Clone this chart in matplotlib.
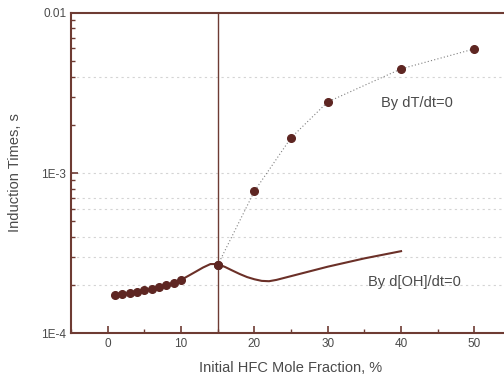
import matplotlib
matplotlib.use('Agg')
import matplotlib.pyplot as plt
from matplotlib.ticker import FixedLocator, MultipleLocator, NullFormatter

plt.rcParams['font.family'] = ['Liberation Sans', 'DejaVu Sans']

# Induction times by dT/dt=0 (points joined by a dotted line)
x_dt = [15, 20, 25, 30, 40, 50]
t_dt = [2.66e-4, 7.7e-4, 1.66e-3, 2.78e-3, 4.47e-3, 5.96e-3]

# Induction times by d[OH]/dt=0 (points at low fraction, then solid curve)
x_oh_pts = [1, 2, 3, 4, 5, 6, 7, 8, 9, 10, 15]
t_oh_pts = [1.73e-4, 1.75e-4, 1.78e-4, 1.81e-4, 1.85e-4, 1.89e-4, 1.94e-4,
            2.0e-4, 2.06e-4, 2.15e-4, 2.66e-4]
x_oh = [1, 2, 3, 4, 5, 6, 7, 8, 9, 10, 11, 12, 13, 14, 15, 16, 17, 18, 19,
        20, 21, 22, 23, 25, 30, 35, 40]
t_oh = [1.73e-4, 1.75e-4, 1.78e-4, 1.81e-4, 1.85e-4, 1.89e-4, 1.94e-4,
        2.0e-4, 2.06e-4, 2.15e-4, 2.28e-4, 2.42e-4, 2.57e-4, 2.70e-4,
        2.70e-4, 2.59e-4, 2.46e-4, 2.34e-4, 2.24e-4, 2.17e-4, 2.12e-4,
        2.11e-4, 2.15e-4, 2.27e-4, 2.6e-4, 2.93e-4, 3.25e-4]

grid_vals = [2e-4, 3e-4, 4e-4, 6e-4, 7e-4, 1e-3, 4e-3]

brown = '#5e2622'
spine = '#6e3b33'
txt = '#4a4a4a'

fig = plt.figure(figsize=(5.04, 3.79), dpi=100)
ax = fig.add_axes([0.141, 0.121, 0.873, 0.845])
ax.set_yscale('log')
ax.set_xlim(-5, 55)
ax.set_ylim(1e-4, 1e-2)

for g in grid_vals:
    ax.axhline(g, color='#d4d4d4', lw=0.8, ls=(0, (2, 3)), zorder=0)

ax.axvline(15, color=spine, lw=1.0, zorder=1)

ax.plot(x_dt, t_dt, color='#808080', lw=0.8, ls=(0, (1, 2)), zorder=2)
ax.plot(x_dt, t_dt, 'o', color=brown, ms=5.5, zorder=3)
ax.plot(x_oh, t_oh, color='#6b3028', lw=1.5, zorder=2)
ax.plot(x_oh_pts, t_oh_pts, 'o', color=brown, ms=5.5, zorder=3)

ax.text(37.3, 2.75e-3, 'By dT/dt=0', fontsize=10.5, color=txt, va='center')
ax.text(35.5, 2.1e-4, 'By d[OH]/dt=0', fontsize=10.5, color=txt, va='center')

ax.xaxis.set_major_locator(MultipleLocator(10))
ax.xaxis.set_minor_locator(MultipleLocator(5))
ax.yaxis.set_major_locator(FixedLocator([1e-4, 1e-3, 1e-2]))
ax.set_yticklabels(['1E-4', '1E-3', '0.01'])
ax.yaxis.set_minor_formatter(NullFormatter())

ax.tick_params(which='both', direction='in', colors=spine, labelcolor=txt,
               labelsize=8.5)
ax.tick_params(which='major', length=5, width=1.2)
ax.tick_params(which='minor', length=3, width=1.0)
ax.tick_params(axis='y', which='both', right=False)
ax.tick_params(axis='x', which='both', top=False)

for s in ax.spines.values():
    s.set_color(spine)
    s.set_linewidth(1.5)

ax.set_xlabel('Initial HFC Mole Fraction, %', fontsize=10.5, color=txt, labelpad=8)
ax.set_ylabel('Induction Times, s', fontsize=10.5, color=txt, labelpad=14)

fig.savefig('out.png', dpi=100)
